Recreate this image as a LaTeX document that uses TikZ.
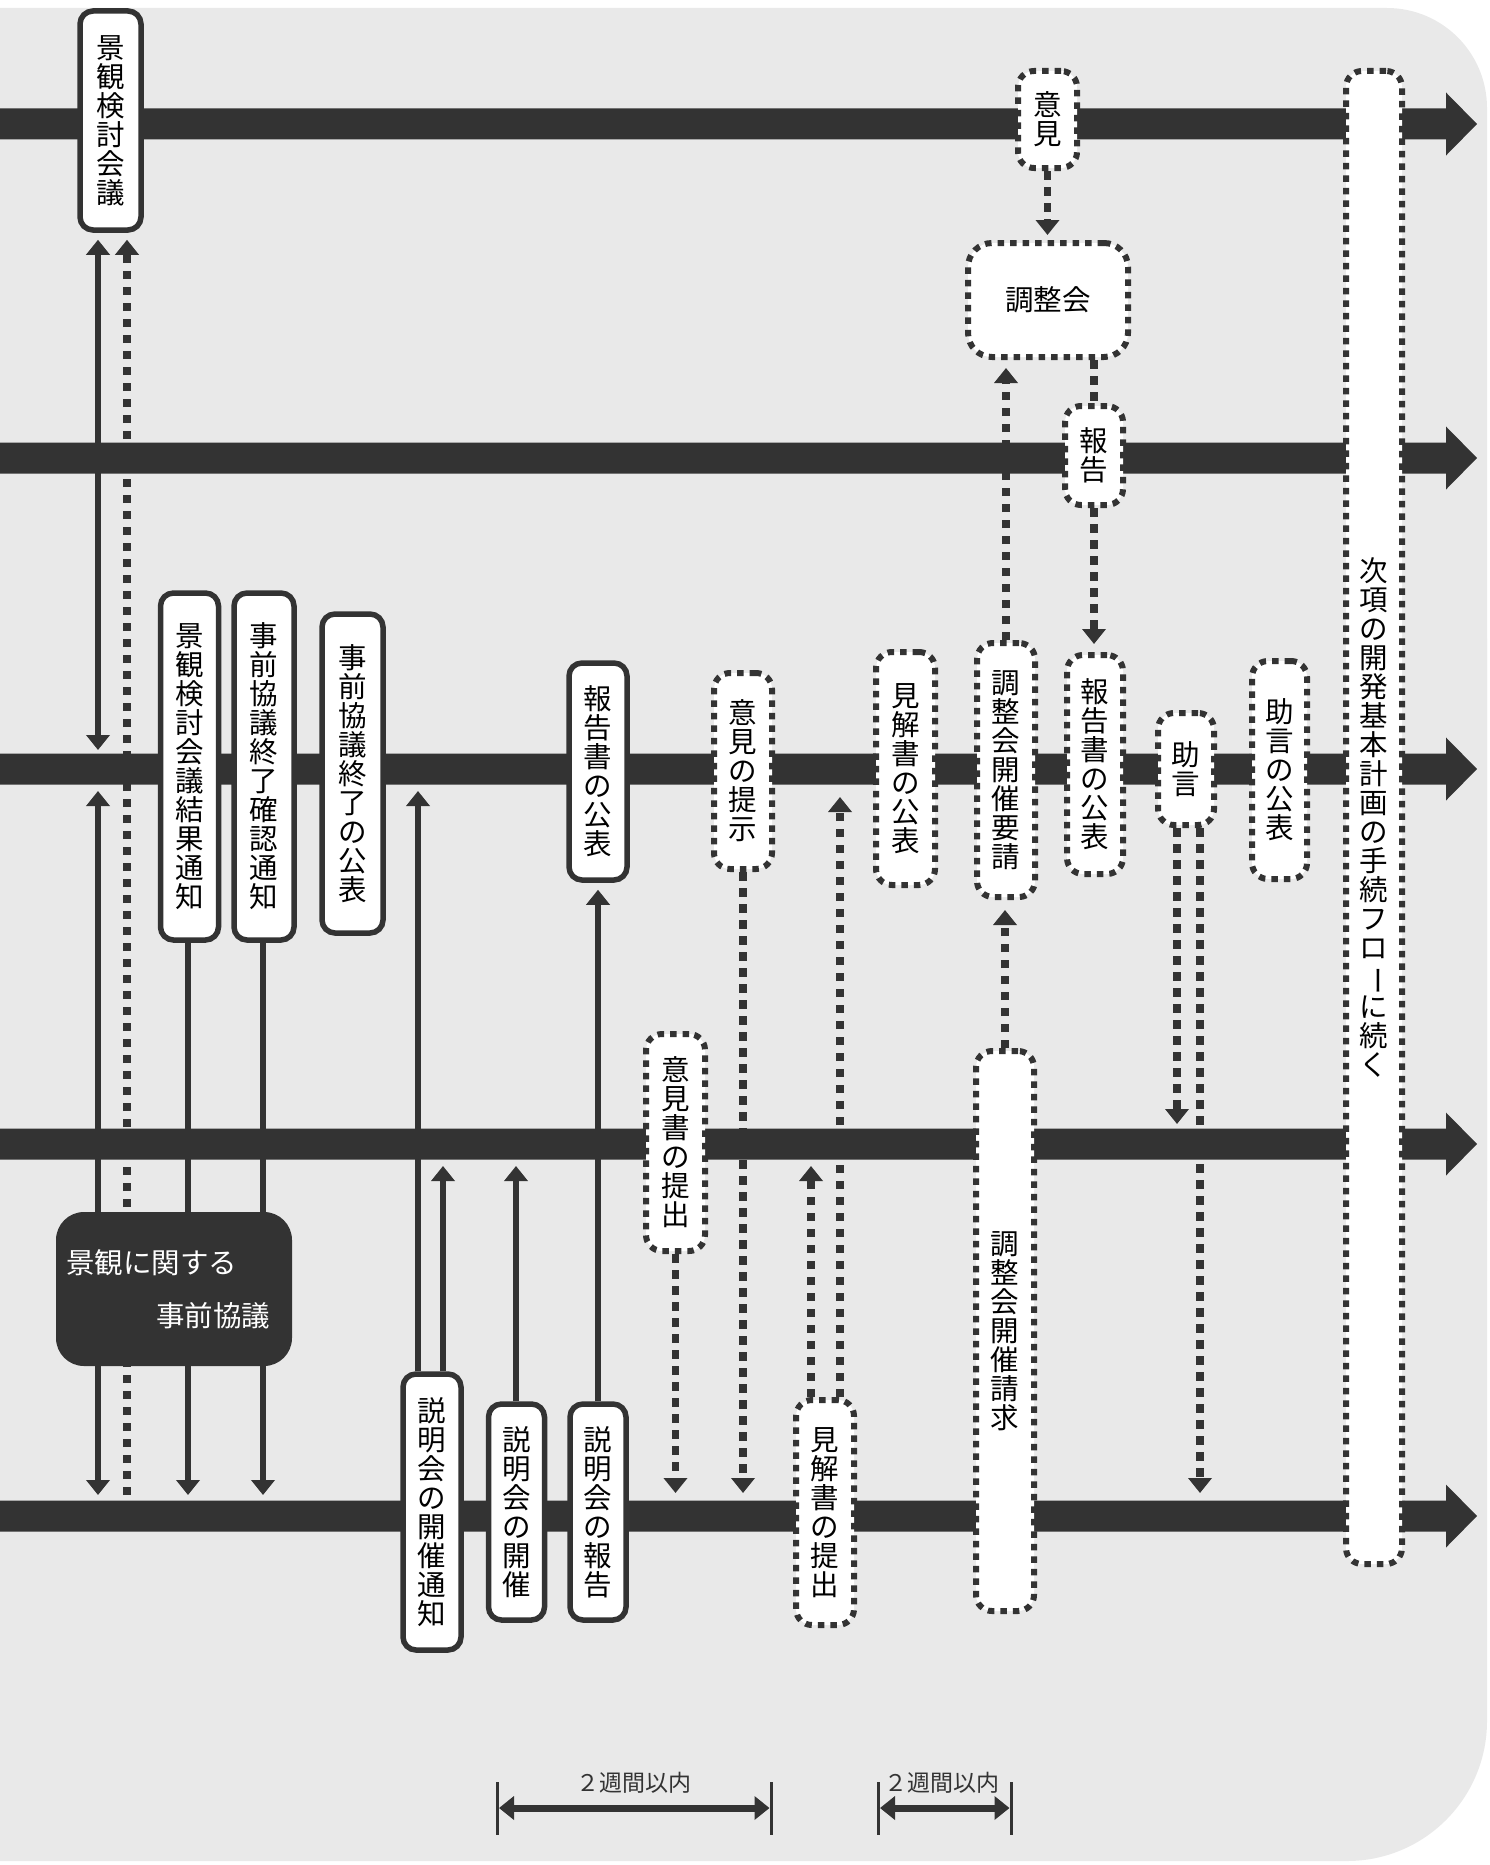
\documentclass[tikz,border=0pt]{standalone}
\usepackage{fontspec}
\usepackage{graphicx}
\setmainfont{Noto Sans CJK JP}
\usetikzlibrary{arrows.meta}
\definecolor{dk}{HTML}{333333}
\definecolor{bgc}{HTML}{E9E9E9}
\newcommand\vfont{\fontsize{28.5pt}{29pt}\selectfont}
\newcommand\cho{\rotatebox[origin=c]{-90}{ー}}
\pgfdeclarelayer{bgl}
\pgfdeclarelayer{conn}
\pgfsetlayers{bgl,conn,main}
\begin{document}
\begin{tikzpicture}[x=1pt,y=-1pt,
  sz/.style 2 args={minimum width=#1pt, minimum height=#2pt},
  sbox/.style={draw=dk, fill=white, line width=5.5pt, rounded corners=13pt, inner sep=0pt, align=center, font=\vfont},
  dbox/.style={draw=dk, fill=white, line width=6pt, dash pattern=on 6.5pt off 6pt, rounded corners=16pt, inner sep=0pt, align=center, font=\vfont},
  sl/.style={draw=dk, line width=6pt},
  dl/.style={draw=dk, line width=7.5pt, dash pattern=on 8.5pt off 7.5pt},
  tipe/.style={-{Triangle[width=23pt,length=15pt]}},
  tipb/.style={{Triangle[width=23pt,length=15pt]}-{Triangle[width=23pt,length=15pt]}},
  lbl/.style={font=\fontsize{23pt}{23pt}\selectfont, text=dk, inner sep=0pt}]
\useasboundingbox (0,0) rectangle (1490,1865);
\begin{pgfonlayer}{bgl}
  \fill[bgc, rounded corners=100pt] (-300,8) rectangle (1487,1300);
  \fill[bgc, rounded corners=140pt] (-300,500) rectangle (1487,1861);
  \foreach \yy in {124,458,769,1144,1516} {
    \fill[dk] (-2,\yy-15.5) -- (1446,\yy-15.5) -- (1446,\yy-31.5) -- (1477,\yy)
      -- (1446,\yy+31.5) -- (1446,\yy+15.5) -- (-2,\yy+15.5) -- cycle;
  }
\end{pgfonlayer}

% solid boxes
\node[sbox, sz={61}{219}] (n1) at (110.5,120.5) {景\\観\\検\\討\\会\\議};
\node[sbox, sz={58}{347}] (n2) at (189.5,766.5) {景\\観\\検\\討\\会\\議\\結\\果\\通\\知};
\node[sbox, sz={60}{347}] (n3) at (264,766.5) {事\\前\\協\\議\\終\\了\\確\\認\\通\\知};
\node[sbox, sz={61}{319}] (n4) at (352.5,773.5) {事\\前\\協\\議\\終\\了\\の\\公\\表};
\node[sbox, sz={58}{217}] (n5) at (598,771.5) {報\\告\\書\\の\\公\\表};
\node[sbox, sz={58}{276}] (n6) at (432,1512) {説\\明\\会\\の\\開\\催\\通\\知};
\node[sbox, sz={56}{216}] (n7) at (516.5,1512) {説\\明\\会\\の\\開\\催};
\node[sbox, sz={56}{216}] (n8) at (598,1512) {説\\明\\会\\の\\報\\告};

% dotted boxes
\node[dbox, sz={59}{97}] (d1) at (1047.5,119.5) {意\\見};
\node[dbox, sz={160}{114}, rounded corners=24pt] (d2) at (1048,300) {調整会};
\node[dbox, sz={58}{99}] (d3) at (1094,455.5) {報\\告};
\node[dbox, sz={58}{196}] (d4) at (743,771) {意\\見\\の\\提\\示};
\node[dbox, sz={59}{233}] (d5) at (905.5,768.5) {見\\解\\書\\の\\公\\表};
\node[dbox, sz={58}{254}] (d6) at (1006,770) {調\\整\\会\\開\\催\\要\\請};
\node[dbox, sz={56}{219}] (d7) at (1095,764.5) {報\\告\\書\\の\\公\\表};
\node[dbox, sz={56}{112}] (d8) at (1186,769) {助\\言};
\node[dbox, sz={55}{218}] (d9) at (1279.5,770) {助\\言\\の\\公\\表};
\node[dbox, sz={59}{217}] (d10) at (675.5,1142.5) {意\\見\\書\\の\\提\\出};
\node[dbox, sz={58}{225}] (d11) at (825,1512.5) {見\\解\\書\\の\\提\\出};
\node[dbox, sz={58}{560}] (d12) at (1005,1331) {調\\整\\会\\開\\催\\請\\求};
\node[dbox, sz={56}{1493}] (d13) at (1374,817.5) {次\\項\\の\\開\\発\\基\\本\\計\\画\\の\\手\\続\\フ\\ロ\\\cho\\に\\続\\く};

% black box
\node[fill=dk, rounded corners=28pt, sz={236}{154}, inner sep=0pt, text=white, align=center,
      font=\fontsize{28.5pt}{53pt}\selectfont] (b) at (174,1289)
  {\makebox[216pt][l]{景観に関する}\\\makebox[216pt][r]{事前協議\hspace*{12pt}}};

\begin{pgfonlayer}{conn}
  % solid connectors
  \coordinate (a1) at (98,750);
  \draw[sl,tipb,shorten <=7pt] (n1.south -| a1) -- (a1);
  \coordinate (a2) at (98,791);
  \coordinate (a2b) at (98,1495);
  \draw[sl,tipb] (a2) -- (a2b);
  \coordinate (a3) at (188,1495);
  \draw[sl,tipe] (n2.south -| a3) -- (a3);
  \coordinate (a4) at (263,1495);
  \draw[sl,tipe] (n3.south -| a4) -- (a4);
  \coordinate (a5) at (418,791);
  \draw[sl,tipe] (n6.north -| a5) -- (a5);
  \coordinate (a6) at (443,1166);
  \draw[sl,tipe] (n6.north -| a6) -- (a6);
  \coordinate (a7) at (516,1166);
  \draw[sl,tipe] (n7.north -| a7) -- (a7);
  \draw[sl,tipe,shorten >=7pt] (n8.north) -- (n5.south);
  % dotted connectors
  \coordinate (b1) at (127,1495);
  \draw[dl,tipe,shorten >=7pt] (b1) -- (n1.south -| b1);
  \draw[dl,tipe,shorten >=5pt] (d1.south) -- (d2.north -| d1.south);
  \draw[dl,tipe,shorten >=8pt] (d6.north) -- (d2.south -| d6.north);
  \draw[dl] (d2.south -| d3.north) -- (d3.north);
  \draw[dl,tipe,shorten >=8pt] (d3.south) -- (d7.north -| d3.south);
  \draw[dl,tipe,shorten >=10pt] (d12.north) -- (d6.south -| d12.north);
  \coordinate (b6) at (743,1493);
  \draw[dl,tipe] (d4.south) -- (b6);
  \coordinate (b7) at (840,797);
  \draw[dl,tipe] (d11.north -| b7) -- (b7);
  \coordinate (b8) at (811,1166);
  \draw[dl,tipe] (d11.north -| b8) -- (b8);
  \coordinate (b9) at (675.5,1493);
  \draw[dl,tipe] (d10.south) -- (b9);
  \coordinate (b10) at (1177,1124);
  \draw[dl,tipe] (d8.south -| b10) -- (b10);
  \coordinate (b11) at (1200,1493);
  \draw[dl,tipe] (d8.south -| b11) -- (b11);
\end{pgfonlayer}

% period markers
\coordinate (p1a) at (497,1782); \coordinate (p1b) at (497,1835);
\coordinate (p2a) at (771,1782); \coordinate (p2b) at (771,1835);
\coordinate (p3a) at (878,1782); \coordinate (p3b) at (878,1835);
\coordinate (p4a) at (1011,1782); \coordinate (p4b) at (1011,1835);
\draw[dk, line width=3pt] (p1a) -- (p1b);
\draw[dk, line width=3pt] (p2a) -- (p2b);
\draw[dk, line width=3pt] (p3a) -- (p3b);
\draw[dk, line width=3pt] (p4a) -- (p4b);
\coordinate (q1) at (499,1808); \coordinate (q2) at (769.5,1808);
\coordinate (q3) at (880,1808); \coordinate (q4) at (1009.5,1808);
\draw[dk, line width=7pt, tipb] (q1) -- (q2);
\draw[dk, line width=7pt, tipb] (q3) -- (q4);
\node[lbl] (w1) at (634,1783) {２週間以内};
\node[lbl] (w2) at (942,1783) {２週間以内};
\end{tikzpicture}
\end{document}
